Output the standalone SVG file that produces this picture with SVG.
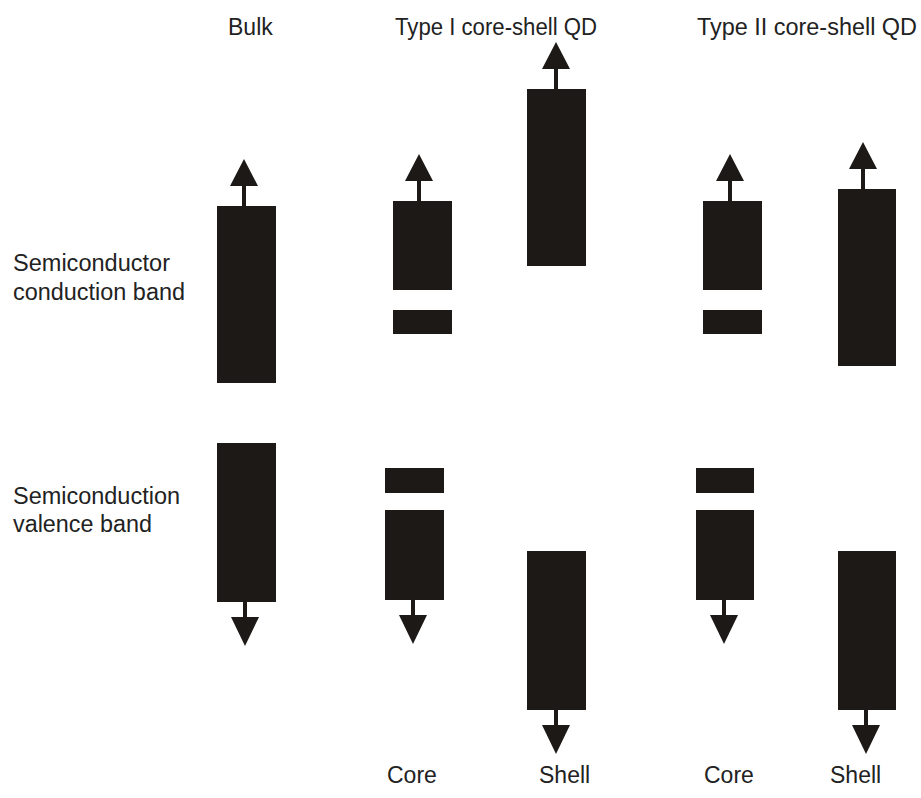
<svg xmlns="http://www.w3.org/2000/svg" xmlns:xlink="http://www.w3.org/1999/xlink" width="921" height="798" viewBox="0 0 921 798">
<style>
.b{fill:#1c1916}
.t{font-family:"Liberation Sans",Arial,sans-serif;font-size:23px;fill:#222}
</style>
<defs>
<path id="up" class="b" d="M-2,1 V-20 H-14 L0,-47 L14,-20 H2 V1 Z"/>
<path id="dn" class="b" d="M-2,-1 V15 H-14 L0,44 L14,15 H2 V-1 Z"/>
</defs>
<rect width="921" height="798" fill="#fff"/>
<g id="labels">
<text class="t" x="228" y="35">Bulk</text>
<text class="t" x="395" y="35" textLength="202" lengthAdjust="spacingAndGlyphs">Type I core-shell QD</text>
<text class="t" x="697" y="35" textLength="220" lengthAdjust="spacingAndGlyphs">Type II core-shell QD</text>
<text class="t" x="13" y="271" textLength="157" lengthAdjust="spacingAndGlyphs">Semiconductor</text>
<text class="t" x="13" y="300" textLength="172" lengthAdjust="spacingAndGlyphs">conduction band</text>
<text class="t" x="13" y="504" textLength="167" lengthAdjust="spacingAndGlyphs">Semiconduction</text>
<text class="t" x="13" y="532" textLength="139" lengthAdjust="spacingAndGlyphs">valence band</text>
<text class="t" x="387" y="783">Core</text>
<text class="t" x="539" y="783">Shell</text>
<text class="t" x="704" y="783">Core</text>
<text class="t" x="830" y="783">Shell</text>
</g>
<g id="bulk-cb"><rect class="b" x="217" y="206" width="59" height="177"/><use xlink:href="#up" x="244" y="206"/></g>
<g id="bulk-vb"><rect class="b" x="217" y="443" width="59" height="159"/><use xlink:href="#dn" x="245" y="602"/></g>
<g id="t1-core-cb"><rect class="b" x="393" y="201" width="59" height="89"/><rect class="b" x="393" y="310" width="59" height="24"/><use xlink:href="#up" x="419" y="201"/></g>
<g id="t1-core-vb"><rect class="b" x="385" y="468" width="59" height="25"/><rect class="b" x="385" y="510" width="59" height="90"/><use xlink:href="#dn" x="413" y="600"/></g>
<g id="t1-shell-cb"><rect class="b" x="527" y="89" width="59" height="177"/><use xlink:href="#up" x="556" y="89"/></g>
<g id="t1-shell-vb"><rect class="b" x="527" y="551" width="59" height="159"/><use xlink:href="#dn" x="556" y="710"/></g>
<g id="t2-core-cb"><rect class="b" x="703" y="201" width="59" height="89"/><rect class="b" x="703" y="310" width="59" height="24"/><use xlink:href="#up" x="730" y="201"/></g>
<g id="t2-core-vb"><rect class="b" x="696" y="468" width="58" height="25"/><rect class="b" x="696" y="510" width="58" height="90"/><use xlink:href="#dn" x="724" y="600"/></g>
<g id="t2-shell-cb"><rect class="b" x="838" y="189" width="58" height="177"/><use xlink:href="#up" x="863" y="189"/></g>
<g id="t2-shell-vb"><rect class="b" x="838" y="551" width="58" height="159"/><use xlink:href="#dn" x="866" y="710"/></g>
<g id="connectors"></g>
</svg>
